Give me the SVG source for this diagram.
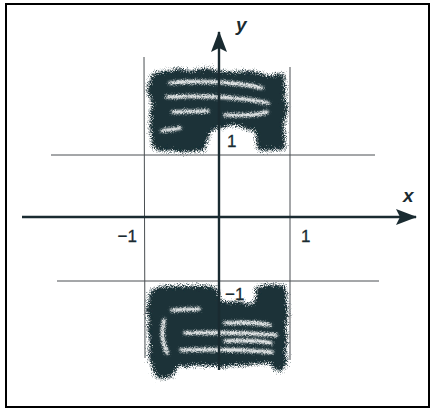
<svg xmlns="http://www.w3.org/2000/svg" width="432" height="410" viewBox="0 0 432 410">
<style>
.grid{stroke:#4a4f52;stroke-width:1;fill:none}
.axis{stroke:#1a2b31;stroke-width:2.4;fill:none}
.lbl{font-family:"Liberation Sans",Arial,sans-serif;font-size:17px;fill:#1a2b31;stroke:#1a2b31;stroke-width:0.3}
.var{font-family:"Liberation Sans",Arial,sans-serif;font-size:19px;font-style:italic;font-weight:bold;fill:#1a2b31}
.ink{fill:#1c3338}
.streak{stroke:#f4f6f6;stroke-width:3.6;fill:none;stroke-linecap:round}
</style>
<defs>
<marker id="ah" viewBox="0 0 22 16" refX="20" refY="8" markerWidth="22" markerHeight="16" markerUnits="userSpaceOnUse" orient="auto">
<path d="M0,0 L21,8 L0,16 L4,8 Z" fill="#1a2b31"/>
</marker>
<filter id="grain" x="-15%" y="-15%" width="130%" height="130%">
<feTurbulence type="fractalNoise" baseFrequency="0.06" numOctaves="2" seed="7" result="w"/>
<feDisplacementMap in="SourceGraphic" in2="w" scale="7" xChannelSelector="R" yChannelSelector="G" result="s"/>
<feGaussianBlur in="s" stdDeviation="2" result="b"/>
<feTurbulence type="fractalNoise" baseFrequency="0.9" numOctaves="2" seed="4" result="n"/>
<feDisplacementMap in="b" in2="n" scale="11" xChannelSelector="R" yChannelSelector="G" result="d"/>
<feComponentTransfer in="d"><feFuncA type="linear" slope="1.5" intercept="-0.15"/></feComponentTransfer>
</filter>
<filter id="fine" x="-10%" y="-50%" width="120%" height="200%">
<feGaussianBlur in="SourceGraphic" stdDeviation="1" result="b"/>
<feTurbulence type="fractalNoise" baseFrequency="0.9" numOctaves="2" seed="9" result="n"/>
<feDisplacementMap in="b" in2="n" scale="5" xChannelSelector="R" yChannelSelector="G"/>
</filter>
</defs>
<rect x="6" y="4" width="423" height="403" fill="#fff" stroke="#000" stroke-width="2"/>
<g id="grid">
<line class="grid" x1="51" y1="155" x2="375" y2="155"/>
<line class="grid" x1="57" y1="281" x2="379" y2="281"/>
<line class="grid" x1="144" y1="57" x2="145" y2="358"/>
<line class="grid" x1="290" y1="67" x2="290" y2="360"/>
</g>
<g id="region-top">
<path class="ink" filter="url(#grain)" d="M151,73 C172,67 210,70 250,72 C260,74 266,76 272,75 L284,72 L285,110 L284,150 L270,151 L258,149 L256,132 C245,127 225,125 210,129 L207,140 L206,150 L180,152 C168,150 158,152 153,148 L150,125 L152,105 L149,88 Z"/>
<g filter="url(#fine)">
<path class="streak" d="M170,83 C200,80 238,82 262,88"/>
<path class="streak" d="M167,97 C200,95 240,97 268,103"/>
<path class="streak" d="M173,112 L208,111"/>
<path class="streak" d="M225,115 C245,116 258,115 267,112"/>
<path class="streak" d="M162,131 L180,128"/>
</g>
</g>
<g id="region-bottom">
<path class="ink" filter="url(#grain)" d="M150,290 C165,285 195,286 218,288 L219,300 C230,303 245,304 254,303 L257,296 L255,288 C265,285 278,284 286,287 L287,330 L286,360 L283,371 L274,370 L271,364 C240,366 200,365 178,366 L168,378 L157,378 L150,360 L148,325 Z"/>
<g filter="url(#fine)">
<path class="streak" d="M172,310 L199,309"/>
<path class="streak" d="M225,323 C245,322 260,323 270,325"/>
<path class="streak" d="M185,333 C220,332 250,333 276,335"/>
<path class="streak" d="M225,341 C245,340 260,341 271,343"/>
<path class="streak" d="M181,350 C215,349 245,350 272,352"/>
<path class="streak" d="M164,320 C161,332 163,344 167,353"/>
</g>
</g>
<g id="axes">
<line class="axis" x1="22" y1="217" x2="416" y2="217" marker-end="url(#ah)"/>
<line class="axis" x1="219" y1="370" x2="219" y2="32" marker-end="url(#ah)"/>
</g>
<g id="labels">
<text class="var" x="236" y="31">y</text>
<text class="var" x="403" y="202">x</text>
<text class="lbl" x="137" y="242" text-anchor="end">−1</text>
<text class="lbl" x="301" y="242">1</text>
<text class="lbl" x="227" y="147">1</text>
<text class="lbl" x="225" y="300">−1</text>
</g>
</svg>
